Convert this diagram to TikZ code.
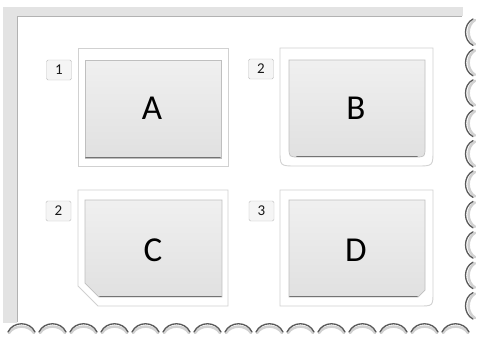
\documentclass[tikz,border=0pt]{standalone}
\usepackage{fontspec}
\setmainfont{Carlito}
\begin{document}
\begin{tikzpicture}[x=1pt,y=-1pt,
  frame/.style={fill=white,draw=black!18,line width=0.9pt},
  innerbox/.style={top color=black!6,bottom color=black!12,draw=black!25,line width=0.7pt},
  baseline/.style={draw=black!55,line width=1.6pt,line cap=round},
  letter/.style={font=\fontsize{35}{35}\selectfont,text=black},
  numbox/.style={draw=black!25,fill=black!4,rounded corners=1.5pt,minimum width=25pt,minimum height=20pt,inner sep=0pt,font=\fontsize{15}{15}\selectfont,text=black!90},
  scallop/.style={draw=black!65,line width=1.3pt,line cap=round},
  scallopshade/.style={draw=black!18,line width=2.5pt,line cap=round}]
\useasboundingbox (0,0) rectangle (478,338);
\fill[white] (0,0) rectangle (478,338);
% paper edges
\fill[black!11] (3,7) rectangle (17,323);
\fill[black!11] (3,7) rectangle (463,16);
\draw[black!30,line width=0.8pt] (17,322) -- (17,16.5) -- (462,16.5);
% right scallops
\foreach \i in {0,...,9}{
  \pgfmathsetmacro{\ya}{17+30.4*\i}
  \pgfmathsetmacro{\yb}{\ya+30.4}
  \draw[scallopshade] (475,\ya+3) .. controls (466.5,\ya+8) and (466.5,\yb-8) .. (475,\yb-3);
  \draw[scallop] (473,\ya+2) .. controls (463,\ya+7) and (463,\yb-7) .. (473,\yb-2);
}
% bottom scallops
\foreach \i in {0,...,14}{
  \pgfmathsetmacro{\xa}{6+31*\i}
  \pgfmathsetmacro{\xb}{\xa+31}
  \draw[scallopshade] (\xa+3,333) .. controls (\xa+8,324.5) and (\xb-8,324.5) .. (\xb-3,333);
  \draw[scallop] (\xa+2,332) .. controls (\xa+7,321) and (\xb-7,321) .. (\xb-2,332);
}
% Box A
\draw[frame] (78,48) rectangle (228,166);
\draw[innerbox] (85,60) rectangle (221,158);
\draw[baseline] (86,157.5) -- (220,157.5);
\node[letter] (A) at (152,108) {A};
\node[numbox] (n1) at (59,70) {1};
% Box B
\draw[frame] (280,48) -- (433,48) -- (433,150) .. controls (433,166) .. (417,166) -- (296,166) .. controls (280,166) .. (280,150) -- cycle;
\draw[innerbox] (289,60) -- (425,60) -- (425,147) .. controls (425,157) .. (415,157) -- (299,157) .. controls (289,157) .. (289,147) -- cycle;
\draw[baseline] (297,156.5) -- (417,156.5);
\node[letter] (B) at (356,108) {B};
\node[numbox] (n2) at (261,69) {2};
% Box C
\draw[frame] (78,190) -- (228,190) -- (228,306) -- (98,306) -- (78,286) -- cycle;
\draw[innerbox] (85,200) -- (222,200) -- (222,297) -- (99,297) -- (85,283) -- cycle;
\draw[baseline] (100,296.5) -- (221,296.5);
\node[letter] (C) at (153,250) {C};
\node[numbox] (n3) at (58.5,211) {2};
% Box D
\draw[frame] (280,190) -- (433,190) -- (433,292) .. controls (433,306) .. (419,306) -- (280,306) -- cycle;
\draw[innerbox] (289,200) -- (425,200) -- (425,290) -- (418,297) -- (289,297) -- cycle;
\draw[baseline] (290,296.5) -- (417,296.5);
\node[letter] (D) at (356,250) {D};
\node[numbox] (n4) at (261.5,211) {3};
\end{tikzpicture}
\end{document}
